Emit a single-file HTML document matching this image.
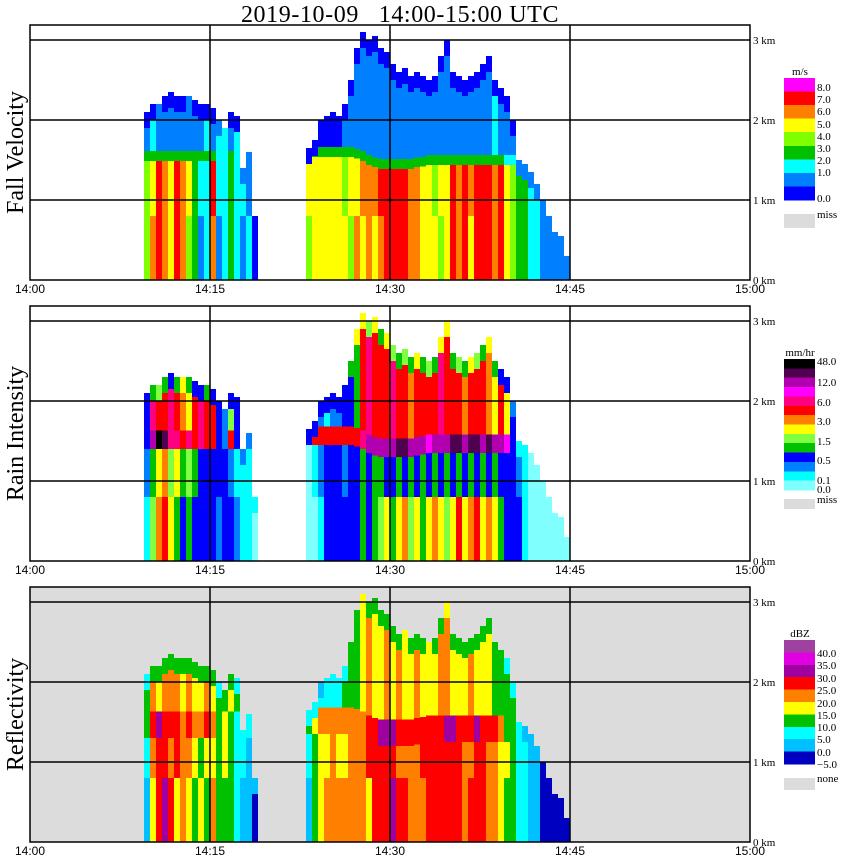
<!DOCTYPE html>
<html><head><meta charset="utf-8">
<style>
html,body{margin:0;padding:0;background:#fff;}
svg{display:block;}
text{font-family:"Liberation Serif",serif;}
.sans{font-family:"Liberation Sans",sans-serif;}
</style></head>
<body>
<svg id="chart" width="850" height="868" viewBox="0 0 850 868" xmlns="http://www.w3.org/2000/svg">
<rect width="850" height="868" fill="#fff"/>
<text x="400" y="22" font-size="24" letter-spacing="0.6" text-anchor="middle" xml:space="preserve">2019-10-09   14:00-15:00 UTC</text>
<g id="panels"></g>
</svg>
<script>
// ---- shared data: columns every 0.5 minute from 14:09.5 to 14:45.0 ----
const startMin = 9.5;
const stepMin = 0.5;
const topKm = [2.1,2.2,2.2,2.3,2.35,2.3,2.3,2.3,2.25,2.2,2.2,2.15,2.0,1.9,2.1,2.05,1.4,1.6,0.8,
  0,0,0,0,0,0,0,0,
  1.65,1.75,2.0,2.05,2.1,2.05,2.2,2.5,2.9,3.1,3.0,3.05,2.9,2.85,2.7,2.6,2.65,2.55,2.6,2.55,2.5,2.55,2.8,3.0,2.6,2.55,2.5,2.55,2.6,2.7,2.8,2.5,2.4,2.3,2.0,1.5,1.45,1.35,1.2,1.0,0.8,0.6,0.55,0.3,0];
const meltKm = [1.55,1.55,1.55,1.55,1.55,1.55,1.55,1.55,1.55,1.55,1.55,1.55,1.55,1.55,1.55,1.55,1.55,1.55,1.55,
  0,0,0,0,0,0,0,0,
  1.6,1.6,1.6,1.6,1.6,1.6,1.6,1.6,1.58,1.55,1.5,1.47,1.45,1.45,1.45,1.45,1.45,1.45,1.47,1.48,1.5,1.5,1.5,1.5,1.5,1.5,1.5,1.5,1.5,1.5,1.5,1.5,1.5,1.5,1.5,1.5,1.5,1.5,1.5,1.5,1.5,1.5,1.5,1.5,1.5];

// ---- Fall velocity classes (0 blue .. 8 magenta) ----
const fvLo = [4,6,7,6,5,7,6,4,3,1,2,6,1,2,3,2,1,2,0, -1,-1,-1,-1,-1,-1,-1,-1,
  4,5,5,5,5,5,5,4,6,5,6,5,6,7,7,7,7,6,6,5,5,5,4,5,7,6,7,5,7,7,7,6,7,5,4,3,3,2,2,1,1,1,1,1,-1];
const fvHi = [4,5,7,6,5,7,6,5,3,2,2,7,2,2,3,2,2,1,0, -1,-1,-1,-1,-1,-1,-1,-1,
  5,5,5,5,5,5,4,5,5,6,6,6,7,7,7,7,7,6,6,5,5,4,5,5,7,6,7,6,7,7,7,6,7,5,4,3,3,2,2,1,1,1,1,1,-1];
const fvBand = [3,3,3,3,3,3,3,3,3,3,3,3,2,2,3,2,2,2,2, -1,-1,-1,-1,-1,-1,-1,-1,
  3,3,3,3,3,3,3,3,3,3,3,3,3,3,3,3,3,3,3,3,3,3,3,3,3,3,3,3,3,3,3,3,3,2,2,2,1,1,1,1,1,1,-1];
const fvUp = [1,2,1,1,1,1,1,1,1,1,2,1,2,2,1,2,1,1,1, -1,-1,-1,-1,-1,-1,-1,-1,
  0,0,0,0,0,0,1,1,1,1,1,1,1,1,1,1,1,1,1,1,1,1,1,1,1,1,1,1,1,1,1,2,1,1,1,1,1,1,1,1,1,1,1,1,-1];
const fvTop = [0,0,1,0,0,0,0,1,0,0,0,0,1,2,0,0,1,1,0, -1,-1,-1,-1,-1,-1,-1,-1,
  0,0,0,0,0,0,0,0,0,0,0,0,0,0,0,0,0,0,0,0,0,0,0,0,0,0,0,0,0,0,0,0,0,0,0,1,1,1,1,1,1,1,-1];

// ---- Rain intensity classes (0 lightcyan .. 13 black) ----
const riLo = [1,5,7,8,6,4,3,4,3,3,3,3,2,3,3,2,1,1,0, -1,-1,-1,-1,-1,-1,-1,-1,
  0,0,1,3,3,3,3,3,3,4,3,4,5,6,4,6,7,5,6,4,6,7,6,5,6,8,6,7,8,6,7,6,4,3,3,3,1,0,0,0,0,0,0,0,-1];
const riHi = [2,4,6,7,5,6,4,5,4,3,3,3,3,3,2,1,1,1,0, -1,-1,-1,-1,-1,-1,-1,-1,
  0,1,2,3,3,3,2,3,3,4,3,4,4,3,3,4,3,4,3,4,3,4,3,4,3,4,3,4,3,4,3,4,3,3,3,2,1,0,0,0,0,0,0,0,-1];
const riBand = [3,11,13,12,9,9,8,9,8,9,8,8,3,2,8,3,2,2,1, -1,-1,-1,-1,-1,-1,-1,-1,
  2,8,8,8,8,8,8,8,8,9,11,11,11,11,11,12,12,11,11,11,10,11,11,11,12,12,11,12,12,11,12,11,11,10,3,2,1,1,0,0,0,0,0,0,-1];
const riUp = [3,9,8,8,9,8,7,6,8,9,8,8,3,2,5,3,1,2,1, -1,-1,-1,-1,-1,-1,-1,-1,
  2,2,2,1,2,2,3,3,4,8,9,8,8,8,9,8,8,7,8,8,8,8,9,8,8,8,7,8,8,8,7,6,8,6,3,2,1,1,0,0,0,0,0,0,-1];
const riTop = [3,4,5,4,3,4,6,4,3,3,4,3,3,2,3,3,2,2,1, -1,-1,-1,-1,-1,-1,-1,-1,
  3,3,3,3,3,3,3,4,6,6,5,6,4,6,5,4,5,4,6,4,5,4,6,6,4,5,4,6,5,4,6,4,3,3,2,1,1,0,0,0,0,0,0,0,-1];

// ---- Reflectivity classes (0 navy .. 9 orchid) ----
const zLo = [1,4,6,7,6,4,5,4,3,4,3,5,3,3,3,2,1,1,0, -1,-1,-1,-1,-1,-1,-1,-1,
  1,3,4,5,5,5,5,5,5,5,4,6,6,6,7,6,6,5,5,5,6,6,6,6,6,6,5,6,6,6,5,5,4,3,3,2,2,1,1,0,0,0,0,0,-1];
const zHi = [2,5,6,6,5,6,5,5,4,3,4,4,3,4,3,2,2,1,0, -1,-1,-1,-1,-1,-1,-1,-1,
  2,3,4,4,5,4,4,5,5,5,6,6,6,6,6,5,5,5,5,6,6,6,6,6,6,6,5,5,6,6,5,5,4,4,3,2,2,1,1,0,0,0,0,0,-1];
const zBand = [3,6,7,6,6,6,5,6,5,5,6,5,3,4,3,2,3,2,1, -1,-1,-1,-1,-1,-1,-1,-1,
  3,4,5,5,5,5,5,5,5,5,6,6,7,7,7,6,6,6,6,6,6,6,6,7,7,6,6,6,7,6,6,6,5,3,3,2,2,1,1,0,0,0,0,0,-1];
const zUp = [3,5,4,5,5,5,4,5,4,4,5,4,3,3,4,3,2,2,1, -1,-1,-1,-1,-1,-1,-1,-1,
  2,2,2,2,2,2,3,3,3,4,5,4,4,5,4,5,4,4,5,4,4,4,5,5,4,4,4,5,4,4,4,3,3,3,3,2,2,1,1,0,0,0,0,0,-1];
const zTop = [2,3,3,3,3,3,3,3,3,3,3,3,2,3,3,2,2,2,1, -1,-1,-1,-1,-1,-1,-1,-1,
  2,2,1,2,2,2,2,3,3,4,3,3,3,3,3,3,4,3,3,3,4,3,3,4,3,3,3,3,3,3,3,3,3,2,2,2,1,1,1,0,0,0,0,0,-1];

// ---- legends ----
const fvColors = ["#0000ff","#0080ff","#00ffff","#00c000","#80ff00","#ffff00","#ff8000","#ff0000","#ff00ff"];
const fvLabels = ["8.0","7.0","6.0","5.0","4.0","3.0","2.0","1.0","0.0"];
const riColors = ["#80ffff","#00ffff","#0080ff","#0000ff","#00c000","#80ff40","#ffff00","#ff8000","#ff0000","#ff0080","#ff00ff","#b000b0","#500050","#000000"];
const riLabels = ["48.0","12.0","6.0","3.0","1.5","0.5","0.1","0.0"];
const zColors = ["#0000c0","#00c0ff","#00ffff","#00c000","#ffff00","#ff8000","#ff0000","#a000a0","#e000e0","#a040a0"];
const zLabels = ["40.0","35.0","30.0","25.0","20.0","15.0","10.0","5.0","0.0","\u22125.0"];
const timeTicks = ["14:00","14:15","14:30","14:45","15:00"];
const tickMinutes = [0,15,30,45,60];
const kmTicks = [0,1,2,3];

const NS = "http://www.w3.org/2000/svg";
const root = document.getElementById("panels");
const X0 = 30, X1 = 750, PXMIN = 12;
function xScale(m){ return X0 + m*PXMIN; }
function mk(tag, attrs, parent){ const e = document.createElementNS(NS, tag); for (const k in attrs) e.setAttribute(k, attrs[k]); parent.appendChild(e); return e; }

const panels = [
  {key:"fall-velocity", title:"Fall Velocity", top:25, bottom:280, bg:"#ffffff", colors:fvColors, bandLo:0.06, bandHi:0.06,
   lo:fvLo, hi:fvHi, band:fvBand, up:fvUp, tp:fvTop, unit:"m/s", legTop:78, legH:122, labels:fvLabels, labY:[91,103,115,128,140,152,164,176,202], miss:"miss", missY:[214,228]},
  {key:"rain-intensity", title:"Rain Intensity", top:306, bottom:561, bg:"#ffffff", colors:riColors, bandLo:0.15, bandHi:0.08,
   lo:riLo, hi:riHi, band:riBand, up:riUp, tp:riTop, unit:"mm/hr", legTop:359, legH:131, labels:riLabels, labY:[365,386,406,425,445,464,484,493], miss:"miss", missY:[499,509]},
  {key:"reflectivity", title:"Reflectivity", top:587, bottom:842, bg:"#dcdcdc", colors:zColors, bandLo:0.25, bandHi:0.08,
   lo:zLo, hi:zHi, band:zBand, up:zUp, tp:zTop, unit:"dBZ", legTop:640, legH:124, labels:zLabels, labY:[657,669,682,694,707,719,731,743,756,768], miss:"none", missY:[778,790]}
];

panels.forEach(function(p){
  const g = mk("g", {}, root);
  
  
  const yScale = function(km){ return p.bottom - km*80; };
  const bg = mk("rect", {x:X0, y:p.top, width:X1-X0, height:p.bottom-p.top, fill:p.bg}, g);
  
  
  const marks = mk("g", {"shape-rendering":"crispEdges"}, g);
  
  
  topKm.forEach(function(top, i){
    if (!(top > 0) || !(p.lo[i] >= 0)) return;
    const m = startMin + i*stepMin;
    const x = xScale(m), w = xScale(m+stepMin) - x;
    const melt = meltKm[i];
    const segs = [
      [0, 0.8, p.lo[i]],
      [0.8, melt-p.bandLo, p.hi[i]],
      [melt-p.bandLo, melt+p.bandHi, p.band[i]],
      [melt+p.bandHi, top-0.2, p.up[i]],
      [top-0.2, top, p.tp[i]]
    ];
    segs.forEach(function(s){
      let a = Math.max(0, s[0]), b = Math.min(top, s[1]);
      let cls = s[2];
      if (!(cls >= 0) || cls >= p.colors.length) cls = p.lo[i];
      if (b <= a) return;
      const r = mk("rect", {x:x, y:yScale(b), width:w, height:yScale(a)-yScale(b), fill:p.colors[cls]}, marks);
      
      
    });
  });
  kmTicks.forEach(function(k){
    if (k === 0) return;
    const l = mk("line", {x1:X0, x2:X1, y1:yScale(k), y2:yScale(k), stroke:"#000", "stroke-width":1.5}, g);
    
    
  });
  tickMinutes.forEach(function(mn, j){
    if (j > 0 && j < 4) {
      const l = mk("line", {x1:xScale(mn), x2:xScale(mn), y1:p.top, y2:p.bottom, stroke:"#000", "stroke-width":1.5}, g);
      
      
    }
    const t = mk("text", {x:xScale(mn), y:p.bottom+13, "font-size":12, "text-anchor":"middle", class:"sans"}, g);
    t.textContent = timeTicks[j];
    
    
  });
  const fr = mk("rect", {x:X0, y:p.top, width:X1-X0, height:p.bottom-p.top, fill:"none", stroke:"#000", "stroke-width":1.5}, g);
  
  
  kmTicks.forEach(function(k){
    const t = mk("text", {x:753, y:yScale(k)+4, "font-size":11}, g);
    t.textContent = k + " km";
    
    
  });
  const cy = (p.top+p.bottom)/2;
  const yt = mk("text", {x:0, y:0, "font-size":24, "text-anchor":"middle", transform:"translate(23," + cy + ") rotate(-90)"}, g);
  yt.textContent = p.title;
  
  
  const lg = mk("g", {"shape-rendering":"crispEdges"}, g);
  
  
  const ut = mk("text", {x:800, y:p.legTop-3, "font-size":11, "text-anchor":"middle"}, lg);
  ut.textContent = p.unit;
  
  
  const n = p.colors.length, sh = p.legH/n;
  for (let c = 0; c < n; c++) {
    const r = mk("rect", {x:784, y:p.legTop + c*sh, width:31, height:sh+0.5, fill:p.colors[n-1-c]}, lg);
    
    
  }
  p.labels.forEach(function(lb, j){
    const t = mk("text", {x:817, y:p.labY[j], "font-size":11}, lg);
    t.textContent = lb;
    
    
  });
  const mr = mk("rect", {x:784, y:p.missY[0], width:31, height:p.missY[1]-p.missY[0], fill:"#dcdcdc"}, lg);
  
  
  const mt = mk("text", {x:817, y:p.missY[0]+4, "font-size":11}, lg);
  mt.textContent = p.miss;
  
  
});
</script>
</body></html>
